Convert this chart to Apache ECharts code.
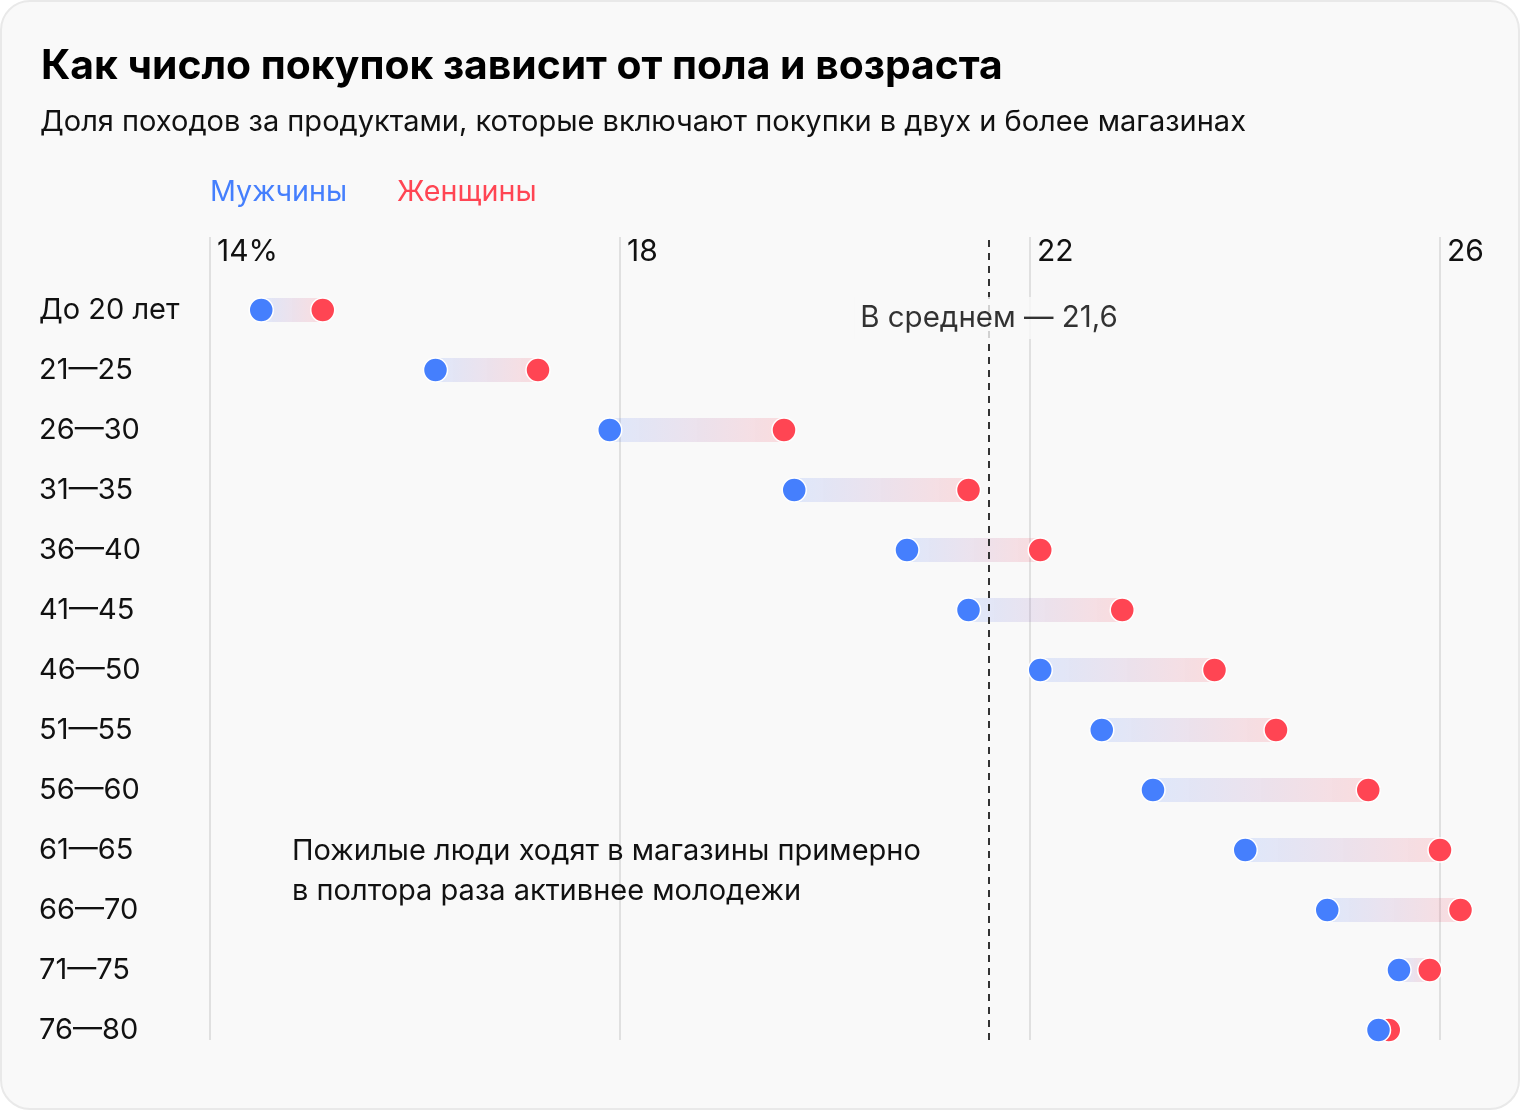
<!DOCTYPE html>
<html><head><meta charset="utf-8">
<script src="https://cdn.jsdelivr.net/npm/echarts@6/dist/echarts.min.js"></script>
<style>
html,body{margin:0;padding:0;background:#fff;}
#card{position:absolute;left:0;top:0;width:1520px;height:1110px;box-sizing:border-box;border:2px solid #e9e9e9;border-radius:30px;background:#f9f9f9;}
#chart{position:absolute;left:0;top:0;width:1520px;height:1110px;}
</style></head>
<body><div id="card"></div><div id="chart"></div>
<script>
const titleText = 'Как число покупок зависит от пола и возраста';
const subtitleText = 'Доля походов за продуктами, которые включают покупки в двух и более магазинах';
const noteText = 'Пожилые люди ходят в магазины примерно\nв полтора раза активнее молодежи';
const categories = ['До 20 лет','21—25','26—30','31—35','36—40','41—45','46—50','51—55','56—60','61—65','66—70','71—75','76—80'];
const men =   [14.5, 16.2, 17.9, 19.7, 20.8, 21.4, 22.1, 22.7, 23.2, 24.1, 24.9, 25.6, 25.4];
const women = [15.1, 17.2, 19.6, 21.4, 22.1, 22.9, 23.8, 24.4, 25.3, 26.0, 26.2, 25.9, 25.5];
const average = 21.6;
const averageLabel = 'В среднем — 21,6';
const xTickLabels = {14: '14%', 18: '18', 22: '22', 26: '26'};

const BLUE = '#457ffd', RED = '#ff4553';
const FONT = 'Inter';

const chart = echarts.init(document.getElementById('chart'), null, {renderer: 'canvas'});

function renderBar(params, api) {
  const s = api.coord([api.value(0), api.value(2)]);
  const e = api.coord([api.value(1), api.value(2)]);
  const h = 24;
  return {
    type: 'rect',
    shape: {x: s[0], y: s[1] - h / 2, width: e[0] - s[0], height: h},
    style: {fill: new echarts.graphic.LinearGradient(0, 0, 1, 0, [
      {offset: 0, color: 'rgba(69,127,253,0.15)'},
      {offset: 1, color: 'rgba(255,69,83,0.16)'}
    ])}
  };
}

const option = {
  backgroundColor: 'transparent',
  animation: false,
  textStyle: {fontFamily: FONT},
  title: [
    {text: titleText, left: 36, top: 37, textStyle: {fontFamily: FONT, fontWeight: 700, fontSize: 40.8, color: '#000', lineHeight: 50}},
    {text: subtitleText, left: 35, top: 100, textStyle: {fontFamily: FONT, fontWeight: 400, fontSize: 29, color: '#111', lineHeight: 34}},
    {text: noteText, left: 287, top: 826, textStyle: {fontFamily: FONT, fontWeight: 400, fontSize: 29, color: '#111', lineHeight: 40}}
  ],
  legend: {
    left: 200, top: 173, icon: 'none', itemWidth: 0, itemGap: 45, selectedMode: false,
    textStyle: {fontFamily: FONT, fontSize: 28.7},
    data: [
      {name: 'Мужчины', textStyle: {color: BLUE}},
      {name: 'Женщины', textStyle: {color: RED}}
    ]
  },
  grid: [
    {left: 210, width: 1230, top: 280, height: 780, containLabel: false},
    {left: 210, width: 1230, top: 237, height: 803, containLabel: false}
  ],
  xAxis: [
    {gridIndex: 0, type: 'value', min: 14, max: 26, show: false},
    {gridIndex: 1, type: 'value', min: 14, max: 26, interval: 4, position: 'top',
     axisLine: {show: false}, axisTick: {show: false},
     splitLine: {show: true, lineStyle: {color: '#e0e0e0', width: 2}},
     axisLabel: {inside: true, align: 'left', verticalAlign: 'top', margin: 0, padding: [0, 0, 0, 7],
       fontFamily: FONT, fontSize: 30, color: '#111', formatter: v => xTickLabels[v] || String(v)}}
  ],
  yAxis: [
    {gridIndex: 0, type: 'category', data: categories, inverse: true,
     axisLine: {show: false}, axisTick: {show: false}, splitLine: {show: false},
     axisLabel: {align: 'left', margin: 171, padding: [4, 0, 0, 0], fontFamily: FONT, fontSize: 29, color: '#111'}},
    {gridIndex: 1, type: 'value', min: 0, max: 1, show: false}
  ],
  series: [
    {type: 'custom', name: 'range', xAxisIndex: 0, yAxisIndex: 0, z: 2, clip: false,
     renderItem: renderBar, encode: {x: [0, 1], y: 2},
     data: categories.map((c, i) => [men[i], women[i], i])},
    {type: 'line', name: 'avg', xAxisIndex: 1, yAxisIndex: 1, z: 3, data: [],
     markLine: {silent: true, symbol: 'none', label: {show: false},
       lineStyle: {color: '#333', width: 2, type: [7, 6]},
       data: [{xAxis: average}]}},
    {type: 'scatter', name: 'Женщины', xAxisIndex: 0, yAxisIndex: 0, z: 4, clip: false,
     symbolSize: 24, itemStyle: {color: RED, borderColor: '#fff', borderWidth: 1.5, opacity: 1},
     data: women.map((v, i) => [v, i])},
    {type: 'scatter', name: 'Мужчины', xAxisIndex: 0, yAxisIndex: 0, z: 5, clip: false,
     symbolSize: 24, itemStyle: {color: BLUE, borderColor: '#fff', borderWidth: 1.5, opacity: 1},
     data: men.map((v, i) => [v, i])},
    {type: 'scatter', name: 'avgLabel', xAxisIndex: 0, yAxisIndex: 0, z: 6, clip: false,
     symbolSize: 0, silent: true,
     label: {show: true, position: 'inside', offset: [0, 8], formatter: averageLabel,
       fontFamily: FONT, fontSize: 29.5, color: '#000', backgroundColor: '#f9f9f9', padding: [6, 6]},
     data: [[average, 0]]}
  ]
};
chart.setOption(option);
</script></body></html>
